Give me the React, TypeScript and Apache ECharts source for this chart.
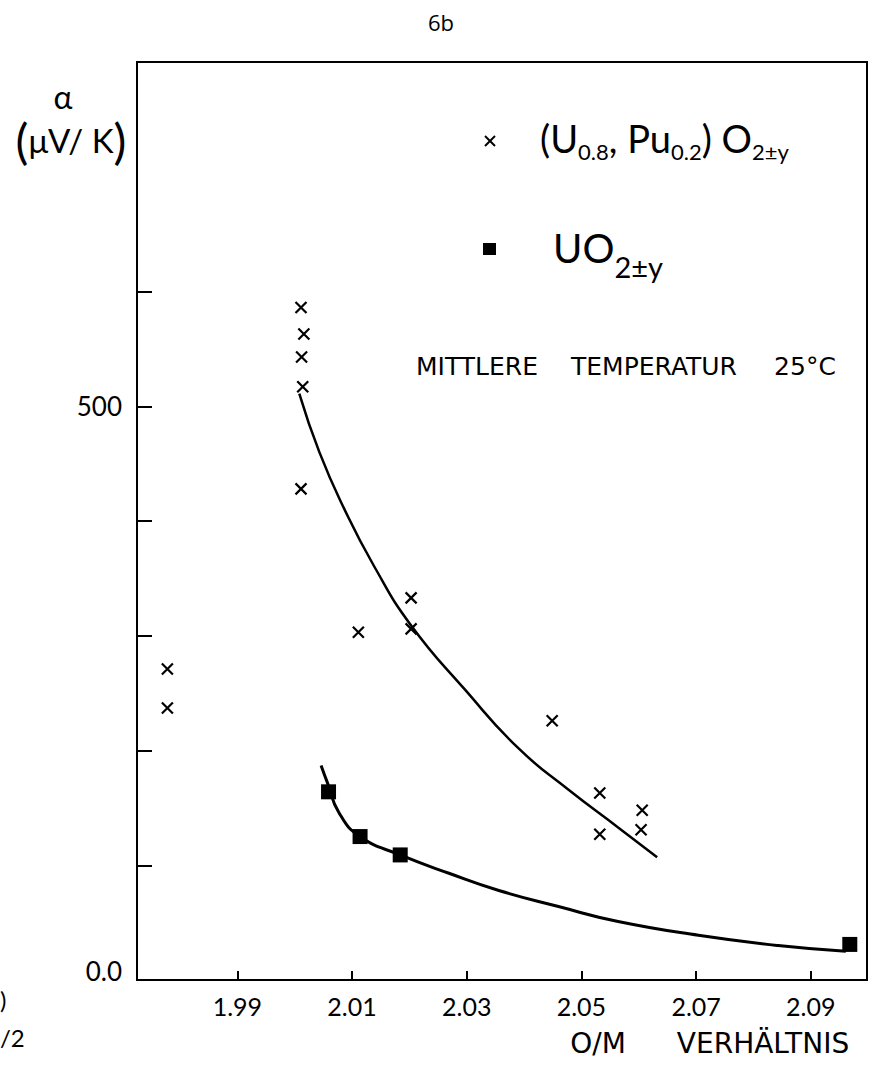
import React, { useEffect, useRef } from "react";
import * as echarts from "echarts";

// (U0.8,Pu0.2)O2±y measurements
const mixedX = [2.0011, 2.0016, 2.0012, 2.0014, 2.0011, 2.0111, 2.0203, 2.0203, 2.0449, 2.0532, 2.0532, 2.0606, 2.0604, 1.9778, 1.9778];
const mixedY = [586, 563, 543, 517, 428, 303, 333, 306, 226, 163, 127, 148, 131, 271, 237];

// UO2±y measurements
const uoX = [2.0059, 2.0114, 2.0184, 2.0968];
const uoY = [164, 125, 109, 31];

// hand-drawn fit curves
const mixedFitX = [2.0008, 2.0043, 2.0086, 2.0138, 2.0203, 2.0297, 2.039, 2.0477, 2.0564, 2.0632];
const mixedFitY = [511, 460, 411, 361, 309, 253, 202, 166, 133, 107];
const uoFitX = [2.0046, 2.0057, 2.0077, 2.0114, 2.0184, 2.0269, 2.0356, 2.046, 2.0564, 2.0704, 2.0843, 2.0961];
const uoFitY = [187, 172, 146, 125, 109, 93, 78, 64, 51, 39, 30, 25];

const xTicks = [1.99, 2.01, 2.03, 2.05, 2.07, 2.09];
const yTicks = [100, 200, 300, 400, 500, 600];
const yLabels: Record<number, string> = { 0: "{z|0.0}", 500: "500" };

const FONT = "Lato";
const WIDE = "DejaVu Sans";
const crossPath = "path://M0,0L10,10M10,0L0,10";

export default function App() {
  const ref = useRef<HTMLDivElement>(null);
  useEffect(() => {
    if (!ref.current) return;
    const chart = echarts.init(ref.current, undefined, { renderer: "svg" });
    const zip = (xs: number[], ys: number[]) => xs.map((x, i) => [x, ys[i]]);
    const word = (text: string, x: number, y: number, size: number, align = "center", family = WIDE) => ({
      type: "text",
      x,
      y,
      style: { text, fontSize: size, fontFamily: family, fill: "#000", align, verticalAlign: "middle" },
    });
    chart.setOption({
      animation: false,
      backgroundColor: "#fff",
      textStyle: { fontFamily: FONT, color: "#000" },
      grid: { left: 137, right: 14, top: 62, bottom: 87, show: true, borderColor: "#000", borderWidth: 2 },
      xAxis: {
        type: "value",
        min: 1.9725,
        max: 2.0998,
        splitLine: { show: false },
        axisLine: { lineStyle: { color: "#000", width: 2 } },
        axisTick: { inside: true, length: 9, lineStyle: { color: "#000", width: 2 }, customValues: xTicks },
        axisLabel: {
          customValues: xTicks,
          formatter: (v: number) => v.toFixed(2),
          fontSize: 25,
          color: "#000",
          fontFamily: FONT,
          margin: 13,
        },
      },
      yAxis: {
        type: "value",
        min: 0,
        max: 800,
        interval: 100,
        splitLine: { show: false },
        axisLine: { lineStyle: { color: "#000", width: 2 } },
        axisTick: { inside: true, length: 15, lineStyle: { color: "#000", width: 2 }, customValues: yTicks },
        axisLabel: {
          formatter: (v: number) => yLabels[v] ?? "",
          fontSize: 26,
          color: "#000",
          fontFamily: FONT,
          margin: 15,
          showMaxLabel: false,
          rich: { z: { fontSize: 26, fontFamily: FONT, padding: [0, 0, 18, 0] } },
        },
      },
      series: [
        {
          type: "line",
          data: zip(mixedFitX, mixedFitY),
          showSymbol: false,
          smooth: 0.5,
          lineStyle: { color: "#000", width: 2.5 },
          silent: true,
        },
        {
          type: "line",
          data: zip(uoFitX, uoFitY),
          showSymbol: false,
          smooth: 0.5,
          lineStyle: { color: "#000", width: 3 },
          silent: true,
        },
        {
          type: "scatter",
          data: zip(mixedX, mixedY),
          symbol: crossPath,
          symbolSize: 11,
          itemStyle: { color: "#000", borderColor: "#000", borderWidth: 2.2, opacity: 1 },
        },
        {
          type: "scatter",
          data: zip(uoX, uoY),
          symbol: "rect",
          symbolSize: 15,
          itemStyle: { color: "#000", opacity: 1 },
        },
      ],
      graphic: [
        { type: "text", x: 441, y: 22, style: { text: "6b", fontSize: 22, fontFamily: "Open Sans", fill: "#000", align: "center", verticalAlign: "middle" } },
        { type: "text", x: 63, y: 96, style: { text: "α", fontSize: 32, fontFamily: FONT, fill: "#000", align: "center", verticalAlign: "middle" } },
        {
          type: "text",
          x: 71,
          y: 140,
          style: {
            text: "{b|(}{m|μV/ K}{b|)}",
            align: "center",
            verticalAlign: "middle",
            fill: "#000",
            rich: {
              b: { fontSize: 48, fontFamily: FONT, fill: "#000" },
              m: { fontSize: 33, fontFamily: FONT, fill: "#000" },
            },
          },
        },
        // legend
        { type: "polyline", shape: { points: [[485, 136], [495, 146]] }, style: { stroke: "#000", lineWidth: 2 } },
        { type: "polyline", shape: { points: [[495, 136], [485, 146]] }, style: { stroke: "#000", lineWidth: 2 } },
        {
          type: "text",
          x: 540,
          y: 138,
          style: {
            text: "{p|(U}{s|0.8}{p|, Pu}{s|0.2}{p|) O}{s|2±y}",
            verticalAlign: "middle",
            fill: "#000",
            rich: {
              p: { fontSize: 38, fontFamily: FONT, fill: "#000" },
              s: { fontSize: 22, fontFamily: FONT, fill: "#000", padding: [26, 0, 0, 0] },
            },
          },
        },
        { type: "rect", shape: { x: 483, y: 243, width: 13, height: 12 }, style: { fill: "#000" } },
        {
          type: "text",
          x: 553,
          y: 248,
          style: {
            text: "{p|UO}{s|2±y}",
            verticalAlign: "middle",
            fill: "#000",
            rich: {
              p: { fontSize: 40, fontFamily: FONT, fill: "#000" },
              s: { fontSize: 29, fontFamily: FONT, fill: "#000", padding: [36, 0, 0, 0] },
            },
          },
        },
        word("MITTLERE", 477, 366, 25),
        word("TEMPERATUR", 654, 366, 25),
        word("25°C", 805, 366, 25),
        word("O/M", 598, 1043, 28),
        word("VERHÄLTNIS", 763, 1043, 28),
        // cut-off fragments from neighbouring figure
        word(")", 0, 999, 24, "left", FONT),
        word("/2", 0, 1037, 24, "left", FONT),
      ],
    });
    return () => chart.dispose();
  }, []);
  return <div ref={ref} style={{ position: "fixed", left: 0, top: 0, width: 881, height: 1067, background: "#fff" }} />;
}
